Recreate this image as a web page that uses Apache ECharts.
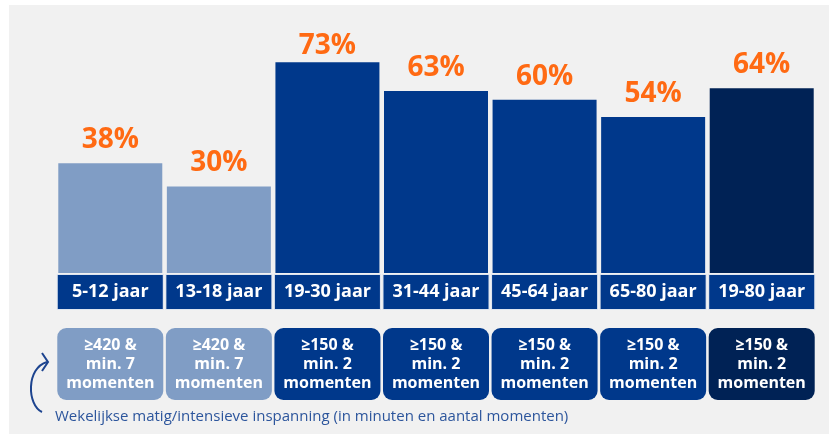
<!DOCTYPE html>
<html><head><meta charset="utf-8">
<script src="https://cdn.jsdelivr.net/npm/echarts@6/dist/echarts.min.js"></script>
<style>html,body{margin:0;padding:0;background:#fff}#c{width:829px;height:434px}</style>
</head><body><div id="c"></div>
<script>
const categories = ['5-12 jaar','13-18 jaar','19-30 jaar','31-44 jaar','45-64 jaar','65-80 jaar','19-80 jaar'];
const values = [38, 30, 73, 63, 60, 54, 64];
const barColors = ['#809dc5','#809dc5','#00388b','#00388b','#00388b','#00388b','#002255'];
const norms = ['≥420 &\nmin. 7\nmomenten','≥420 &\nmin. 7\nmomenten','≥150 &\nmin. 2\nmomenten','≥150 &\nmin. 2\nmomenten','≥150 &\nmin. 2\nmomenten','≥150 &\nmin. 2\nmomenten','≥150 &\nmin. 2\nmomenten'];
const footnote = 'Wekelijkse matig/intensieve inspanning (in minuten en aantal momenten)';

const FONT = '"Open Sans", sans-serif';
const chart = echarts.init(document.getElementById('c'));
chart.setOption({
  animation: false,
  backgroundColor: '#ffffff',
  graphic: [
    {type:'rect', z:-10, shape:{x:9,y:5,width:820,height:429}, style:{fill:'#f1f1f1'}},
    {type:'bezierCurve', z:10, shape:{x1:42,y1:412,cpx1:27,cpy1:405,cpx2:26,cpy2:368,x2:47,y2:362}, style:{fill:'none', stroke:'#1d448f', lineWidth:2}},
    {type:'polyline', z:10, shape:{points:[[42,353],[48,362],[42,371]]}, style:{fill:'none', stroke:'#1d448f', lineWidth:2}},
    {type:'text', z:10, left:55, top:409, style:{text:footnote, fill:'#2c559c', font:'15px "Open Sans", sans-serif'}}
  ],
  grid: {left:56, right:13, top:42, bottom:161},
  xAxis: [
    {type:'category', data:categories, axisLine:{show:false}, axisTick:{show:false},
     axisLabel:{interval:0, margin:2, color:'#fff', fontFamily:FONT, fontWeight:'bold', fontSize:18,
       backgroundColor:'#00388b', borderColor:'#dde4ef', borderWidth:1, width:105, height:34, lineHeight:34, align:'center'}},
    {type:'category', position:'bottom', offset:53,
     data: categories.map((c,i)=>({value:c, textStyle:{backgroundColor:barColors[i]}})),
     axisLine:{show:false}, axisTick:{show:false},
     axisLabel:{interval:0, margin:2, color:'#fff', fontFamily:FONT, fontWeight:'bold', fontSize:16,
       lineHeight:19, width:106, padding:[8,0,7,0], borderRadius:9, align:'center',
       formatter:(v,i)=>norms[i]}}
  ],
  yAxis: {type:'value', min:0, max:80, show:false},
  series: [{
    type:'bar', barWidth:104,
    data: values.map((v,i)=>({value:v, itemStyle:{color:barColors[i]}, label: v === 73 ? {distance:2} : undefined})),
    label:{show:true, position:'top', distance:9, formatter:'{c}%', color:'#ff6a13',
      fontFamily:FONT, fontWeight:'bold', fontSize:28}
  }]
});
</script></body></html>
